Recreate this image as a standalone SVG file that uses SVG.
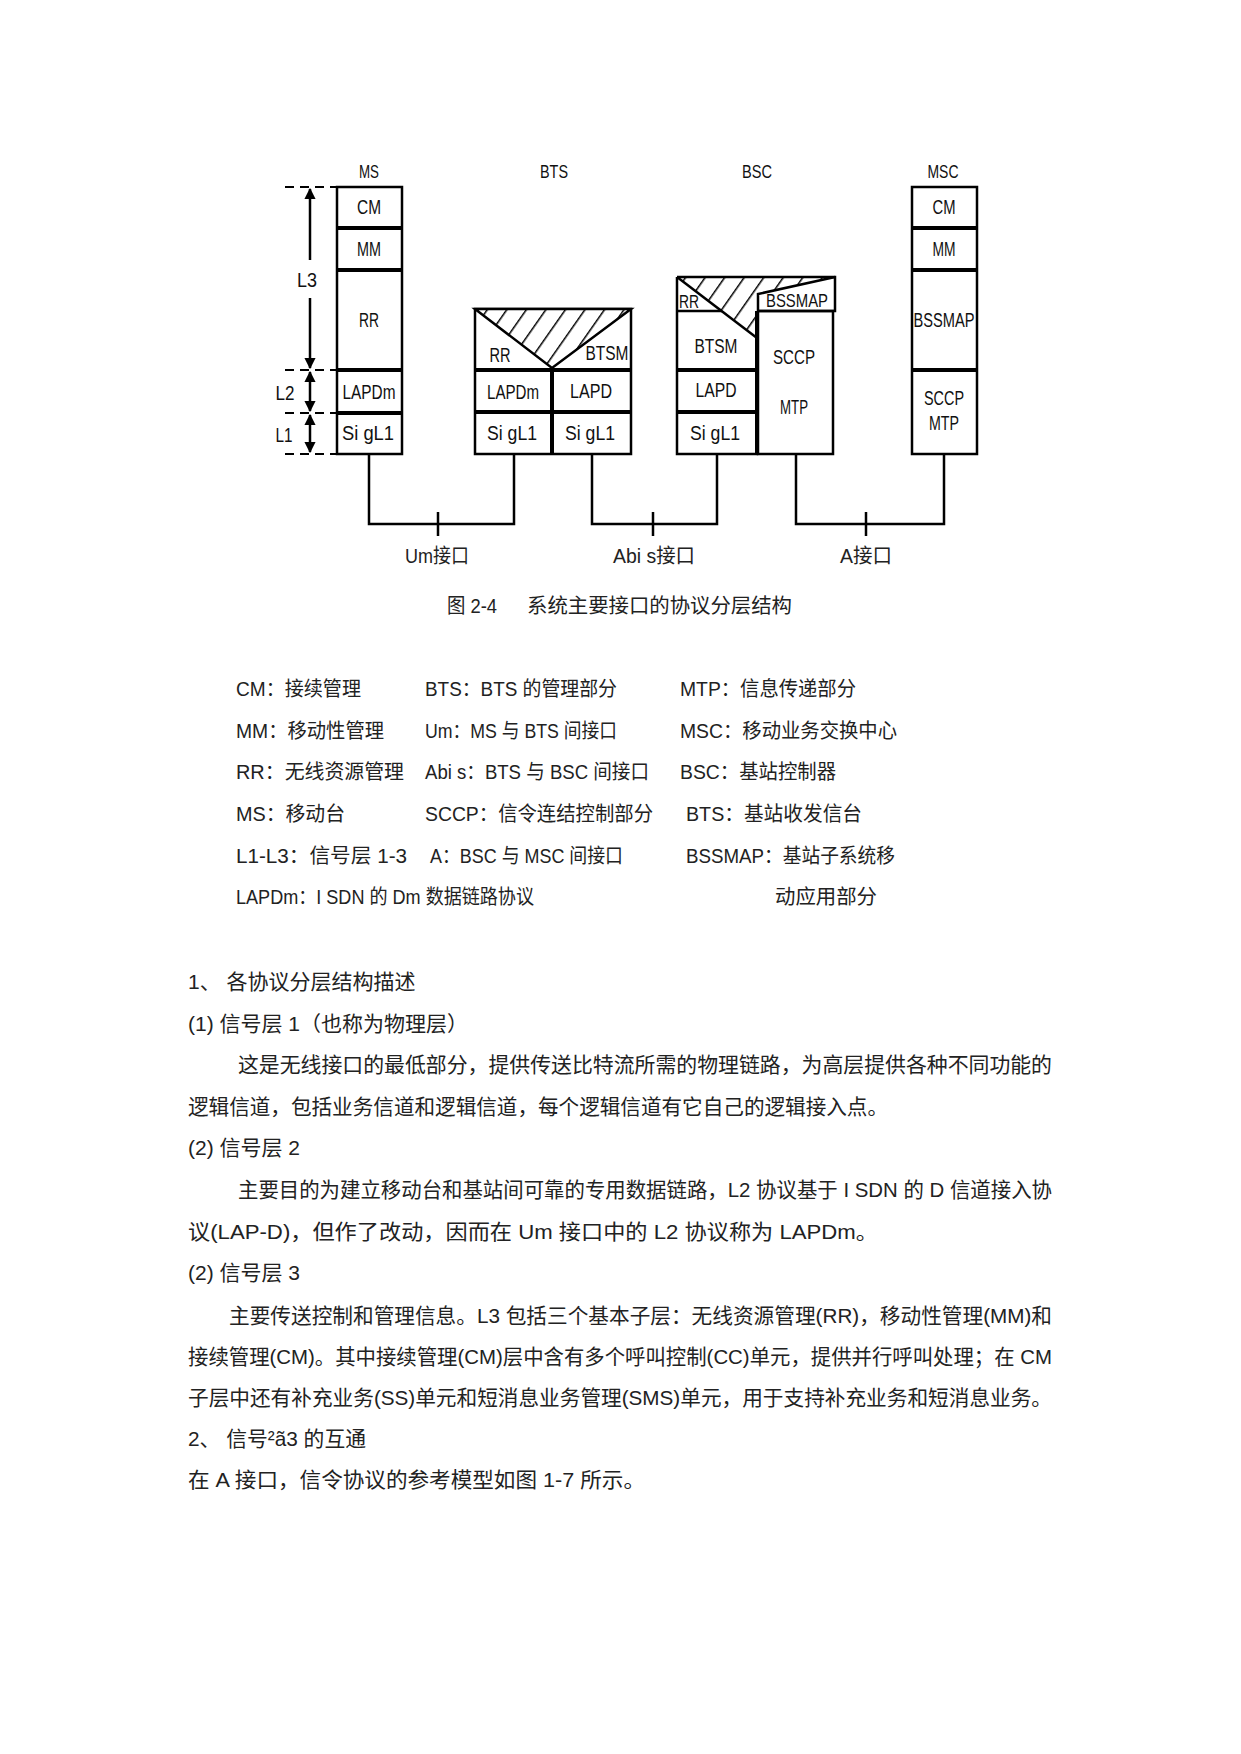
<svg xmlns="http://www.w3.org/2000/svg" width="1241" height="1754" viewBox="0 0 1241 1754">
<style>
.box{fill:#fff;stroke:#000;stroke-width:2.5}
.ln{stroke:#000;stroke-width:2.5;fill:none}
.thk{stroke:#000;stroke-width:4;fill:none}
.lbl{font-family:"Liberation Sans","Noto Sans CJK SC",sans-serif;font-size:20px;text-anchor:middle;fill:#111}
.hdr{font-family:"Liberation Sans","Noto Sans CJK SC",sans-serif;font-size:19px;text-anchor:middle;fill:#111}
.conn{fill:none;stroke:#000;stroke-width:2.5}
.dash{stroke:#000;stroke-width:2;stroke-dasharray:9 6}
.arr{stroke:#000;stroke-width:2.5;fill:none;marker-start:url(#ah);marker-end:url(#ah)}
.cap{font-family:"Liberation Sans","Noto Sans CJK SC",sans-serif;font-size:20px;fill:#222}
.txt{font-family:"Liberation Sans","Noto Sans CJK SC",sans-serif;font-size:20px;fill:#222}
.body{font-family:"Liberation Sans","Noto Sans CJK SC",sans-serif;font-size:21px;fill:#222}
</style>
<defs>
<marker id="ah" viewBox="0 0 10 10" refX="9" refY="5" markerWidth="4.5" markerHeight="5" orient="auto-start-reverse" markerUnits="strokeWidth">
<path d="M0,0 L10,5 L0,10 Z" fill="#000"/>
</marker>
<pattern id="hatch" width="16" height="16" patternUnits="userSpaceOnUse" patternTransform="rotate(35)">
<rect width="16" height="16" fill="#fff"/>
<line x1="0" y1="0" x2="0" y2="16" stroke="#000" stroke-width="3"/>
</pattern>
</defs>
<rect width="1241" height="1754" fill="#fff"/>

<!-- Layer markers -->
<g id="layer-markers">
<line class="dash" x1="285" y1="187" x2="337" y2="187"/>
<line class="dash" x1="285" y1="370" x2="337" y2="370"/>
<line class="dash" x1="285" y1="413" x2="337" y2="413"/>
<line class="dash" x1="285" y1="454" x2="337" y2="454"/>
<line class="ln" x1="310" y1="189" x2="310" y2="260" marker-start="url(#ah)"/>
<line class="ln" x1="310" y1="298" x2="310" y2="368" marker-end="url(#ah)"/>
<line class="arr" x1="310" y1="372" x2="310" y2="411"/>
<line class="arr" x1="310" y1="415" x2="310" y2="452"/>
<text class="lbl" x="307" y="287" textLength="20" lengthAdjust="spacingAndGlyphs">L3</text>
<text class="lbl" x="285" y="400" textLength="19" lengthAdjust="spacingAndGlyphs">L2</text>
<text class="lbl" x="284" y="442" textLength="17" lengthAdjust="spacingAndGlyphs">L1</text>
</g>

<!-- MS -->
<g id="ms">
<text class="hdr" x="369" y="178" textLength="20" lengthAdjust="spacingAndGlyphs">MS</text>
<rect class="box" x="337" y="187" width="65" height="267"/>
<line class="thk" x1="337" y1="228" x2="402" y2="228"/>
<line class="thk" x1="337" y1="270" x2="402" y2="270"/>
<line class="thk" x1="337" y1="370" x2="402" y2="370"/>
<line class="thk" x1="337" y1="413" x2="402" y2="413"/>
<text class="lbl" x="369" y="214" textLength="24" lengthAdjust="spacingAndGlyphs">CM</text>
<text class="lbl" x="369" y="256" textLength="24" lengthAdjust="spacingAndGlyphs">MM</text>
<text class="lbl" x="369" y="327" textLength="20" lengthAdjust="spacingAndGlyphs">RR</text>
<text class="lbl" x="369" y="399" textLength="53" lengthAdjust="spacingAndGlyphs">LAPDm</text>
<text class="lbl" x="368" y="440" textLength="52" lengthAdjust="spacingAndGlyphs">Si gL1</text>
</g>

<!-- BTS -->
<g id="bts">
<text class="hdr" x="554" y="178" textLength="28" lengthAdjust="spacingAndGlyphs">BTS</text>
<rect class="box" x="475" y="309" width="156" height="145"/>
<polygon points="475,309 631,309 552,368" fill="url(#hatch)" stroke="#000" stroke-width="2.5"/>
<line class="thk" x1="475" y1="370" x2="631" y2="370"/>
<line class="thk" x1="475" y1="412" x2="631" y2="412"/>
<line class="thk" x1="552" y1="368" x2="552" y2="454"/>
<text class="lbl" x="500" y="362" textLength="21" lengthAdjust="spacingAndGlyphs">RR</text>
<text class="lbl" x="607" y="360" textLength="43" lengthAdjust="spacingAndGlyphs">BTSM</text>
<text class="lbl" x="513" y="399" textLength="52" lengthAdjust="spacingAndGlyphs">LAPDm</text>
<text class="lbl" x="591" y="398" textLength="42" lengthAdjust="spacingAndGlyphs">LAPD</text>
<text class="lbl" x="512" y="440" textLength="50" lengthAdjust="spacingAndGlyphs">Si gL1</text>
<text class="lbl" x="590" y="440" textLength="50" lengthAdjust="spacingAndGlyphs">Si gL1</text>
</g>

<!-- BSC -->
<g id="bsc">
<text class="hdr" x="757" y="178" textLength="30" lengthAdjust="spacingAndGlyphs">BSC</text>
<rect class="box" x="758" y="311" width="75" height="143"/>
<path class="ln" d="M677,277 V454 H757 V337"/>
<polygon points="677,277 835,277 758,294 757,337" fill="url(#hatch)" stroke="none"/>
<path class="ln" d="M677,277 H835 V311 H758"/>
<line class="ln" x1="677" y1="277" x2="757" y2="338"/>
<path class="ln" d="M758,311 V294 L835,277"/>
<line class="ln" x1="677" y1="311" x2="722" y2="311"/>
<line class="thk" x1="677" y1="370" x2="757" y2="370"/>
<line class="thk" x1="677" y1="412" x2="757" y2="412"/>
<line class="thk" x1="757" y1="311" x2="757" y2="454"/>
<text class="lbl" x="689" y="308" style="font-size:18px" textLength="20" lengthAdjust="spacingAndGlyphs">RR</text>
<text class="lbl" x="797" y="307" style="font-size:18px" textLength="62" lengthAdjust="spacingAndGlyphs">BSSMAP</text>
<text class="lbl" x="716" y="353" textLength="43" lengthAdjust="spacingAndGlyphs">BTSM</text>
<text class="lbl" x="716" y="397" textLength="41" lengthAdjust="spacingAndGlyphs">LAPD</text>
<text class="lbl" x="715" y="440" textLength="50" lengthAdjust="spacingAndGlyphs">Si gL1</text>
<text class="lbl" x="794" y="364" textLength="42" lengthAdjust="spacingAndGlyphs">SCCP</text>
<text class="lbl" x="794" y="414" textLength="28" lengthAdjust="spacingAndGlyphs">MTP</text>
</g>

<!-- MSC -->
<g id="msc">
<text class="hdr" x="943" y="178" textLength="31" lengthAdjust="spacingAndGlyphs">MSC</text>
<rect class="box" x="912" y="187" width="65" height="267"/>
<line class="thk" x1="912" y1="228" x2="977" y2="228"/>
<line class="thk" x1="912" y1="270" x2="977" y2="270"/>
<line class="thk" x1="912" y1="370" x2="977" y2="370"/>
<text class="lbl" x="944" y="214" textLength="23" lengthAdjust="spacingAndGlyphs">CM</text>
<text class="lbl" x="944" y="256" textLength="23" lengthAdjust="spacingAndGlyphs">MM</text>
<text class="lbl" x="944" y="327" textLength="61" lengthAdjust="spacingAndGlyphs">BSSMAP</text>
<text class="lbl" x="944" y="405" textLength="40" lengthAdjust="spacingAndGlyphs">SCCP</text>
<text class="lbl" x="944" y="430" textLength="30" lengthAdjust="spacingAndGlyphs">MTP</text>
</g>

<!-- Connectors -->
<g id="connectors">
<path class="conn" d="M369,454 V524 H514 V454"/>
<line class="conn" x1="438" y1="512" x2="438" y2="536"/>
<path class="conn" d="M592,454 V524 H717 V454"/>
<line class="conn" x1="653" y1="512" x2="653" y2="536"/>
<path class="conn" d="M796,454 V524 H944 V454"/>
<line class="conn" x1="866" y1="512" x2="866" y2="536"/>
</g>

<g id="interface-labels">
<text class="cap" x="437" y="563" text-anchor="middle" textLength="64" lengthAdjust="spacingAndGlyphs">Um接口</text>
<text class="cap" x="654" y="563" text-anchor="middle" textLength="82" lengthAdjust="spacingAndGlyphs">Abi s接口</text>
<text class="cap" x="866" y="563" text-anchor="middle" textLength="52" lengthAdjust="spacingAndGlyphs">A接口</text>
</g>

<g id="caption">
<text class="cap" x="447" y="613" textLength="50" lengthAdjust="spacingAndGlyphs">图 2-4</text>
<text class="cap" x="527" y="613" textLength="265" lengthAdjust="spacingAndGlyphs">系统主要接口的协议分层结构</text>
</g>

<g id="legend" class="txt">
<text x="236" y="696" textLength="125" lengthAdjust="spacingAndGlyphs">CM：接续管理</text>
<text x="425" y="696" textLength="192" lengthAdjust="spacingAndGlyphs">BTS：BTS 的管理部分</text>
<text x="680" y="696" textLength="176" lengthAdjust="spacingAndGlyphs">MTP：信息传递部分</text>
<text x="236" y="738" textLength="148" lengthAdjust="spacingAndGlyphs">MM：移动性管理</text>
<text x="425" y="738" textLength="192" lengthAdjust="spacingAndGlyphs">Um：MS 与 BTS 间接口</text>
<text x="680" y="738" textLength="217" lengthAdjust="spacingAndGlyphs">MSC：移动业务交换中心</text>
<text x="236" y="779" textLength="168" lengthAdjust="spacingAndGlyphs">RR：无线资源管理</text>
<text x="425" y="779" textLength="224" lengthAdjust="spacingAndGlyphs">Abi s：BTS 与 BSC 间接口</text>
<text x="680" y="779" textLength="156" lengthAdjust="spacingAndGlyphs">BSC：基站控制器</text>
<text x="236" y="821" textLength="109" lengthAdjust="spacingAndGlyphs">MS：移动台</text>
<text x="425" y="821" textLength="228" lengthAdjust="spacingAndGlyphs">SCCP：信令连结控制部分</text>
<text x="686" y="821" textLength="176" lengthAdjust="spacingAndGlyphs">BTS：基站收发信台</text>
<text x="236" y="863" textLength="171" lengthAdjust="spacingAndGlyphs">L1-L3：信号层 1-3</text>
<text x="430" y="863" textLength="193" lengthAdjust="spacingAndGlyphs">A：BSC 与 MSC 间接口</text>
<text x="686" y="863" textLength="209" lengthAdjust="spacingAndGlyphs">BSSMAP：基站子系统移</text>
<text x="236" y="904" textLength="298" lengthAdjust="spacingAndGlyphs">LAPDm：I SDN 的 Dm 数据链路协议</text>
<text x="775" y="904" textLength="102" lengthAdjust="spacingAndGlyphs">动应用部分</text>
</g>

<g id="body" class="body">
<text x="188" y="989">1、 各协议分层结构描述</text>
<text x="188" y="1031">(1) 信号层 1（也称为物理层）</text>
<text x="238" y="1072" textLength="814" lengthAdjust="spacingAndGlyphs">这是无线接口的最低部分，提供传送比特流所需的物理链路，为高层提供各种不同功能的</text>
<text x="188" y="1114" textLength="700" lengthAdjust="spacingAndGlyphs">逻辑信道，包括业务信道和逻辑信道，每个逻辑信道有它自己的逻辑接入点。</text>
<text x="188" y="1155">(2) 信号层 2</text>
<text x="238" y="1197" textLength="814" lengthAdjust="spacingAndGlyphs">主要目的为建立移动台和基站间可靠的专用数据链路，L2 协议基于 I SDN 的 D 信道接入协</text>
<text x="188" y="1239" textLength="690" lengthAdjust="spacingAndGlyphs">议(LAP-D)，但作了改动，因而在 Um 接口中的 L2 协议称为 LAPDm。</text>
<text x="188" y="1280">(2) 信号层 3</text>
<text x="229" y="1323" textLength="823" lengthAdjust="spacingAndGlyphs">主要传送控制和管理信息。L3 包括三个基本子层：无线资源管理(RR)，移动性管理(MM)和</text>
<text x="188" y="1364" textLength="864" lengthAdjust="spacingAndGlyphs">接续管理(CM)。其中接续管理(CM)层中含有多个呼叫控制(CC)单元，提供并行呼叫处理；在 CM</text>
<text x="188" y="1405" textLength="864" lengthAdjust="spacingAndGlyphs">子层中还有补充业务(SS)单元和短消息业务管理(SMS)单元，用于支持补充业务和短消息业务。</text>
<text x="188" y="1446" textLength="178" lengthAdjust="spacingAndGlyphs">2、 信号²ã3 的互通</text>
<text x="188" y="1487" textLength="457" lengthAdjust="spacingAndGlyphs">在 A 接口，信令协议的参考模型如图 1-7 所示。</text>
</g>
</svg>
